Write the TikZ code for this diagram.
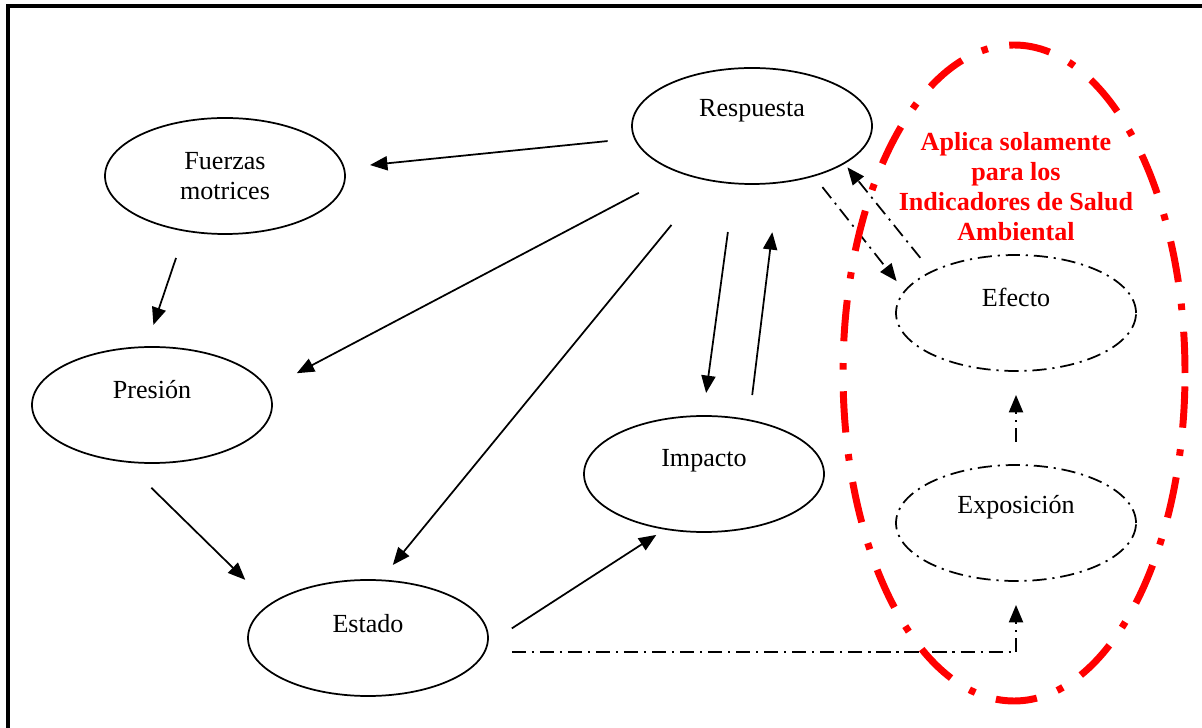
\documentclass[tikz,border=0pt]{standalone}
\usepackage{fontspec}
\setmainfont{Liberation Serif}
\usetikzlibrary{arrows.meta,shapes,positioning}
\newlength\px
\setlength\px{0.46pt}
\tikzset{
  oval/.style = {
    ellipse, draw, line width=0.8pt,
    minimum width=240\px, minimum height=116\px,
    inner sep=0pt, outer sep=0pt
  },
  txt/.style = {
    font=\fontsize{12pt}{13.8pt}\selectfont, align=center
  },
  punteo/.style = {
    dash pattern=on 6.5pt off 2.7pt on 1pt off 2.7pt
  },
  arc/.style = {
    ->,
    line width=0.8pt,
    >={Triangle[length=8pt,width=6.5pt]}
  },
  zona/.style = {
    ellipse, draw=red, line width=3.2pt,
    dash pattern=on 19pt off 10pt on 3pt off 10pt,
    minimum width=342\px, minimum height=656\px, inner sep=0pt
  },
  nota/.style = {
    txt, text=red, font=\fontsize{12pt}{13.8pt}\selectfont\bfseries
  }
}

\begin{document}
\begin{tikzpicture}[x=0.46pt, y=-0.46pt]
		\useasboundingbox (0,0) rectangle (1202,728);
		\clip (0,0) rectangle (1202,728);
		\draw[line width=1.4pt] (8,6) rectangle (1240,760);
		
		\node[oval, label={[txt, yshift=15\px]center:Respuesta}] (resp) at (752,126) {};
		\node[oval, label={[txt]center:Fuerzas\\motrices}] (fuer) at (225,176) {};
		\node[oval, label={[txt, yshift=15\px]center:Presión}] (pres) at (152,405) {};
		\node[oval, label={[txt, yshift=14\px]center:Estado}] (esta) at (368,638) {};
		\node[oval, label={[txt, yshift=13\px]center:Impacto}] (impa) at (704,474) {};
		\node[oval, punteo, label={[txt, yshift=16\px]center:Efecto}] (efec) at (1016,313) {};
		\node[oval, punteo, label={[txt, yshift=16\px]center:Exposición}] (expo) at (1016,523) {};
		
		\path[arc, shorten <=27.3\px, shorten >=26.4\px] (resp.186.5) edge (fuer.4.1);
		\path[arc, shorten <=28.8\px, shorten >=23.4\px] (fuer.234.1) edge (pres.96.5);
		\path[arc, shorten <=44.9\px, shorten >=33.4\px] (resp.212.7) edge (pres.8.7);
		\path[arc, shorten <=58.1\px, shorten >=19.8\px] (resp.231.5) edge (esta.78.8);
		\path[arc, shorten <=49.1\px, shorten >=23.2\px] (resp.253.2) edge (impa.91.1);
		\path[arc, shorten <=25.4\px, shorten >=50\px] (impa.50.2) edge (resp.295.9);
		\path[arc, shorten <=37.6\px, shorten >=35\px] (pres.244.7) edge (esta.161.2);
		\path[arc, shorten <=29.2\px, shorten >=11\px] (esta.357.2) edge (impa.235.6);
		
		\draw[arc, punteo, shorten <=27.5\px, shorten >=24\px] (esta.353.15) -| (expo.south);
		\path[arc, punteo, shorten <=23\px, shorten >=24\px] (expo.north) edge (efec.south);
		\path[arc, punteo, shorten <=14.4\px, shorten >=13\px] (resp.321.4) edge (efec.169.5);
		\path[arc, punteo, shorten <=17.9\px, shorten >=5.4\px] (efec.154.2) edge (resp.338.3);
		
		\node[zona] (zona) at (1014,373) {};
		\node[nota] (nota) at (1016,187) {Aplica solamente\\para los\\Indicadores de Salud\\Ambiental};
	\end{tikzpicture}
\end{document}
